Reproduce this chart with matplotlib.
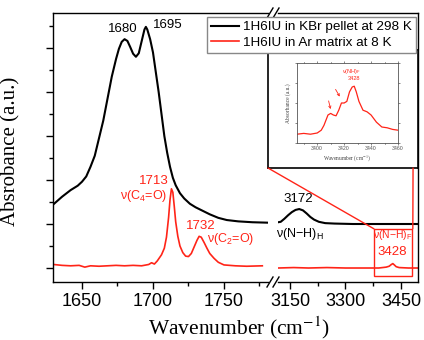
import matplotlib
matplotlib.use('Agg')
import matplotlib.pyplot as plt
from matplotlib.patches import Rectangle, ConnectionPatch
from matplotlib.lines import Line2D
from matplotlib.ticker import MultipleLocator

plt.rcParams['font.family'] = ['Liberation Sans', 'DejaVu Sans']
plt.rcParams['mathtext.fontset'] = 'custom'
plt.rcParams['mathtext.rm'] = 'Liberation Sans'
plt.rcParams['mathtext.it'] = 'Liberation Sans:italic'

# KBr pellet, 298 K (black)
kbr_x1 = [1630, 1636, 1642, 1647, 1650, 1653, 1656, 1659, 1662, 1665, 1668, 1671, 1674, 1676,
          1678, 1680, 1682, 1684, 1686, 1688, 1690, 1692, 1694, 1695, 1696, 1698, 1700, 1702,
          1704, 1706, 1708, 1710, 1712, 1714, 1716, 1719, 1722, 1726, 1730, 1735, 1740, 1746,
          1752, 1760, 1770, 1781]
kbr_y1 = [1.45, 1.62, 1.77, 1.87, 1.96, 2.08, 2.30, 2.55, 2.95, 3.35, 3.85, 4.35, 4.75, 4.98,
          5.14, 5.20, 5.16, 5.02, 4.87, 4.80, 4.88, 5.15, 5.42, 5.48, 5.42, 5.20, 4.90, 4.45,
          4.00, 3.50, 3.00, 2.62, 2.30, 2.05, 1.88, 1.70, 1.58, 1.46, 1.38, 1.30, 1.22, 1.14,
          1.09, 1.06, 1.04, 1.03]
kbr_x2 = [3118, 3125, 3135, 3145, 3155, 3165, 3175, 3185, 3195, 3205, 3215, 3228, 3245, 3270,
          3320, 3400, 3499]
kbr_y2 = [1.04, 1.05, 1.12, 1.20, 1.27, 1.32, 1.34, 1.31, 1.24, 1.16, 1.10, 1.05, 1.02, 1.01,
          1.00, 1.00, 1.00]

# Ar matrix, 8 K (red)
ar_x1 = [1630, 1636, 1642, 1648, 1652, 1656, 1662, 1668, 1674, 1680, 1686, 1692, 1697, 1699,
         1701, 1703, 1706, 1708, 1709.5, 1711, 1712, 1713, 1714, 1715, 1716, 1717.5, 1719, 1721,
         1723, 1725, 1727, 1729, 1731, 1732.5, 1734, 1736, 1738, 1740, 1743, 1746, 1750, 1758,
         1766, 1777]
ar_y1 = [0.08, 0.06, 0.05, 0.06, 0.02, 0.05, 0.04, 0.05, 0.06, 0.05, 0.06, 0.05, 0.08, 0.12,
         0.09, 0.16, 0.30, 0.45, 0.70, 1.15, 1.55, 1.80, 1.72, 1.40, 1.05, 0.72, 0.50, 0.35,
         0.27, 0.26, 0.33, 0.48, 0.63, 0.72, 0.70, 0.58, 0.45, 0.33, 0.22, 0.13, 0.07, 0.05,
         0.04, 0.05]
ar_x2 = [3118, 3160, 3200, 3250, 3300, 3350, 3390, 3410, 3418, 3424, 3428, 3432, 3437, 3445,
         3470, 3499]
ar_y2 = [0.00, 0.01, 0.00, 0.01, 0.00, 0.00, 0.00, 0.02, 0.04, 0.08, 0.10, 0.07, 0.03, 0.01,
         0.00, 0.00]

# zoomed N-H region (inset)
ins_x = [3385, 3390, 3395, 3400, 3403, 3405, 3408, 3410, 3412, 3414, 3416, 3418, 3420, 3422,
         3424, 3426, 3427.5, 3429, 3431, 3434, 3437, 3440, 3444, 3448, 3452, 3456, 3460]
ins_y = [0.11, 0.12, 0.11, 0.125, 0.16, 0.22, 0.35, 0.37, 0.35, 0.34, 0.41, 0.50, 0.50, 0.52,
         0.64, 0.70, 0.71, 0.64, 0.52, 0.41, 0.39, 0.35, 0.26, 0.20, 0.19, 0.17, 0.16]

RED = '#ff2418'

fig = plt.figure(figsize=(4.24, 3.40), dpi=100)
ax1 = fig.add_axes([53/424, 58/340, 215/424, 269/340])
ax2 = fig.add_axes([278/424, 58/340, 140/424, 269/340])

ax1.plot(kbr_x1, kbr_y1, color='black', lw=1.5)
ax1.plot(ar_x1, ar_y1, color=RED, lw=1.2)
ax2.plot(kbr_x2, kbr_y2, color='black', lw=1.5)
ax2.plot(ar_x2, ar_y2, color=RED, lw=1.2)

for ax in (ax1, ax2):
    ax.set_ylim(-0.318, 5.795)
    for s in ax.spines.values():
        s.set_linewidth(1.0)
    ax.tick_params(axis='x', which='major', length=5, width=1.0, labelsize=13, pad=3, top=False)
    ax.tick_params(axis='x', which='minor', length=3, width=1.0, top=False)

ax1.set_xlim(1629.6, 1781)
ax1.xaxis.set_major_locator(MultipleLocator(50))
ax1.xaxis.set_minor_locator(MultipleLocator(25))
ax1.yaxis.set_major_locator(MultipleLocator(1))
ax1.yaxis.set_minor_locator(MultipleLocator(0.5))
ax1.tick_params(axis='y', which='major', length=5, width=1.0, labelleft=False, right=False)
ax1.tick_params(axis='y', which='minor', length=3, width=1.0, right=False)
ax1.spines['right'].set_visible(False)

ax2.set_xlim(3117.6, 3496)
ax2.xaxis.set_major_locator(MultipleLocator(150))
ax2.xaxis.set_minor_locator(MultipleLocator(75))
ax2.tick_params(axis='y', which='both', left=False, right=False, labelleft=False)
ax2.spines['left'].set_visible(False)

# break marks
for yb in (13, 282):
    for xb in (270, 276):
        fig.add_artist(Line2D([(xb - 3)/424, (xb + 3)/424], [(340 - yb - 5)/340, (340 - yb + 5)/340],
                              color='black', lw=1.0, transform=fig.transFigure))

ax1.set_ylabel('Absrobance (a.u.)', family='Liberation Serif', fontsize=15)
ax1.yaxis.set_label_coords(-0.153, 0.485)
fig.text(239/424, 0.035, 'Wavenumber (cm$^{-1}$)', family='Liberation Serif', math_fontfamily='stix',
         fontsize=15.5, ha='center', va='center')

# peak labels
ax1.text(1678.6, 5.43, '1680', fontsize=9.5, ha='center', va='center')
ax1.text(1710.2, 5.52, '1695', fontsize=9.5, ha='center', va='center')
ax1.text(1700.5, 1.98, '1713', fontsize=9.5, ha='center', va='center', color=RED)
ax1.text(1693.4, 1.64, 'ν(C$_4$=O)', fontsize=9, ha='center', va='center', color=RED)
ax1.text(1733.5, 0.95, '1732', fontsize=9.5, ha='center', va='center', color=RED)
ax1.text(1737.8, 0.67, 'ν(C$_2$=O)', fontsize=9, ha='left', va='center', color=RED, clip_on=False)
ax2.text(3173, 1.56, '3172', fontsize=9.5, ha='center', va='center')
ax2.text(3176, 0.77, 'ν(N−H)$_\\mathrm{H}$', fontsize=9, ha='center', va='center')
ax2.text(3428, 0.75, 'ν(N−H)$_\\mathrm{F}$', fontsize=7.5, ha='center', va='center', color=RED)
ax2.text(3426, 0.36, '3428', fontsize=9.5, ha='center', va='center', color=RED)
ax2.add_patch(Rectangle((3377, -0.18), 103, 1.07, fill=False, edgecolor=RED, lw=1.0))

# legend
handles = [Line2D([], [], color='black', lw=1.5), Line2D([], [], color=RED, lw=1.2)]
fig.legend(handles, ['1H6IU in KBr pellet at 298 K', '1H6IU in Ar matrix at 8 K'],
           loc='upper right', bbox_to_anchor=(416/424, 1 - 17/340), bbox_transform=fig.transFigure,
           fontsize=9.7, frameon=True, fancybox=False, edgecolor='#888888', framealpha=1,
           borderaxespad=0, borderpad=0.3, handlelength=2.1, handletextpad=0.3, labelspacing=0.2)

# inset (picture-in-picture)
box = fig.add_axes([268/424, 172/340, 150/424, 118/340])
box.set_xticks([])
box.set_yticks([])
box.set_facecolor('white')
for s in box.spines.values():
    s.set_linewidth(1.2)

inn = fig.add_axes([297/424, 197/340, 101/424, 80/340])
inn.plot(ins_x, ins_y, color=RED, lw=0.9)
inn.set_xlim(3385, 3460)
inn.set_ylim(0, 1)
inn.xaxis.set_major_locator(MultipleLocator(20))
inn.xaxis.set_minor_locator(MultipleLocator(10))
inn.yaxis.set_major_locator(MultipleLocator(0.25))
inn.tick_params(axis='both', which='major', length=1.5, width=0.5, labelsize=3.8, pad=1,
                colors='#555555', top=True, right=True)
inn.tick_params(axis='both', which='minor', length=1, width=0.5, top=True)
inn.tick_params(axis='y', labelleft=False)
for s in inn.spines.values():
    s.set_linewidth(0.6)
    s.set_color('#555555')
inn.set_xlabel('Wavenumber (cm$^{-1}$)', family='Liberation Serif', math_fontfamily='stix',
               fontsize=4, labelpad=1.5, color='#444444')
inn.set_ylabel('Absorbance (a.u.)', family='Liberation Serif', fontsize=4, labelpad=3, color='#444444')
inn.text(3425.5, 0.89, 'ν(NH)$_\\mathrm{F}$', fontsize=4, ha='center', va='center', color=RED)
inn.text(3427, 0.80, '3428', fontsize=4, ha='center', va='center', color=RED)
inn.annotate('', xy=(3410.4, 0.39), xytext=(3408, 0.56),
             arrowprops=dict(arrowstyle='->', color=RED, lw=0.6, mutation_scale=4))
inn.annotate('', xy=(3417.8, 0.55), xytext=(3412.6, 0.70),
             arrowprops=dict(arrowstyle='->', color=RED, lw=0.6, mutation_scale=4))

# zoom lines from rectangle to inset
for xa, xb in ((3377, 0.0), (3482, 0.967)):
    fig.add_artist(ConnectionPatch(xyA=(xa, 0.89), coordsA=ax2.transData,
                                   xyB=(xb, 0.0), coordsB=box.transAxes, color=RED, lw=1.0))

fig.savefig('out.png', dpi=100)
